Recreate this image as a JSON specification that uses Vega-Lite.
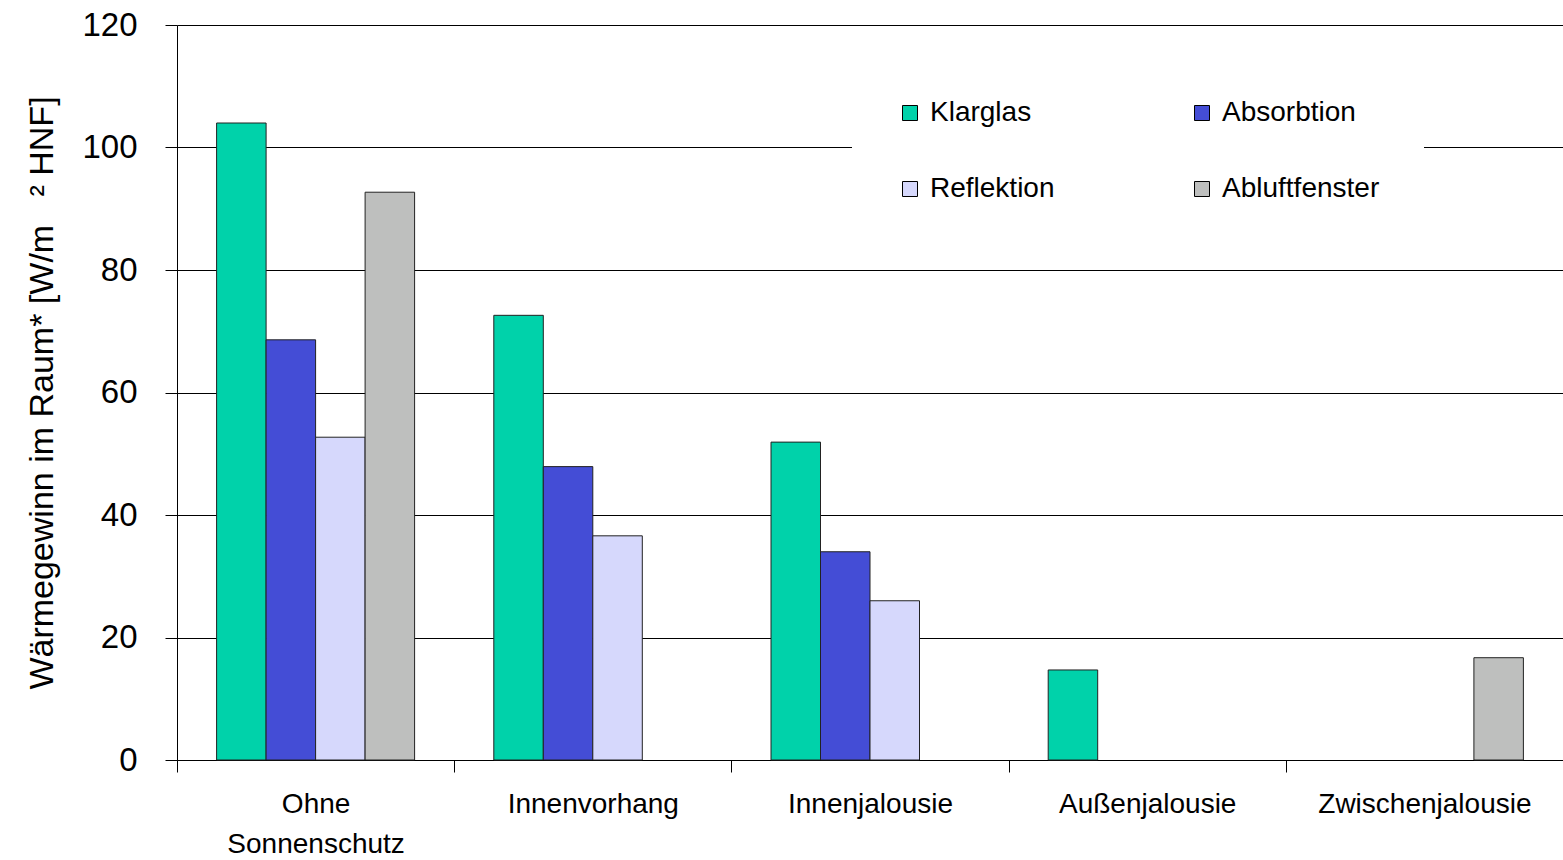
{
  "$schema": "https://vega.github.io/schema/vega-lite/v6.json",
  "autosize": "none",
  "width": 1386,
  "height": 735,
  "padding": {"left": 177, "top": 25, "right": 0, "bottom": 100},
  "background": "white",
  "config": {
    "view": {"stroke": null},
    "font": "Liberation Sans"
  },
  "data": {
    "values": [
      {"cat": "Ohne Sonnenschutz", "serie": "Klarglas", "wert": 104.0},
      {"cat": "Ohne Sonnenschutz", "serie": "Absorbtion", "wert": 68.6},
      {"cat": "Ohne Sonnenschutz", "serie": "Reflektion", "wert": 52.7},
      {"cat": "Ohne Sonnenschutz", "serie": "Abluftfenster", "wert": 92.7},
      {"cat": "Innenvorhang", "serie": "Klarglas", "wert": 72.6},
      {"cat": "Innenvorhang", "serie": "Absorbtion", "wert": 47.9},
      {"cat": "Innenvorhang", "serie": "Reflektion", "wert": 36.6},
      {"cat": "Innenjalousie", "serie": "Klarglas", "wert": 51.9},
      {"cat": "Innenjalousie", "serie": "Absorbtion", "wert": 34.0},
      {"cat": "Innenjalousie", "serie": "Reflektion", "wert": 26.0},
      {"cat": "Außenjalousie", "serie": "Klarglas", "wert": 14.7},
      {"cat": "Zwischenjalousie", "serie": "Abluftfenster", "wert": 16.7}
    ]
  },
  "mark": {"type": "bar", "stroke": "#222222", "strokeWidth": 1},
  "encoding": {
    "x": {
      "field": "cat",
      "type": "nominal",
      "sort": ["Ohne Sonnenschutz", "Innenvorhang", "Innenjalousie", "Außenjalousie", "Zwischenjalousie"],
      "scale": {"paddingInner": 0, "paddingOuter": 0},
      "axis": {
        "title": null,
        "labelAngle": 0,
        "labelExpr": "datum.value == 'Ohne Sonnenschutz' ? ['Ohne', 'Sonnenschutz'] : datum.value",
        "labelFont": "Liberation Sans",
        "labelFontSize": 28,
        "labelColor": "black",
        "labelLineHeight": 40,
        "labelPadding": 18,
        "labelLimit": 400,
        "tickBand": "extent",
        "tickSize": 12,
        "tickColor": "black",
        "domainColor": "black",
        "grid": false
      }
    },
    "xOffset": {
      "field": "serie",
      "type": "nominal",
      "sort": ["Klarglas", "Absorbtion", "Reflektion", "Abluftfenster"],
      "scale": {"domain": ["Klarglas", "Absorbtion", "Reflektion", "Abluftfenster"], "paddingInner": 0, "paddingOuter": 0.8}
    },
    "y": {
      "field": "wert",
      "type": "quantitative",
      "scale": {"domain": [0, 120], "nice": false},
      "axis": {
        "title": "Wärmegewinn im Raum* [W/m\u00a0\u00a0\u00a0² HNF]",
        "titleFont": "Liberation Sans",
        "titleFontSize": 34,
        "titleFontWeight": "normal",
        "titleColor": "black",
        "titlePadding": 22,
        "values": [0, 20, 40, 60, 80, 100, 120],
        "labelFont": "Liberation Sans",
        "labelFontSize": 33,
        "labelColor": "black",
        "labelPadding": 28,
        "tickSize": 12,
        "tickColor": "black",
        "domainColor": "black",
        "grid": true,
        "gridColor": "black",
        "gridWidth": 1
      }
    },
    "color": {
      "field": "serie",
      "type": "nominal",
      "scale": {
        "domain": ["Klarglas", "Absorbtion", "Reflektion", "Abluftfenster"],
        "range": ["#00D2AA", "#444DD6", "#D6D8FC", "#BEBFBE"]
      },
      "legend": {
        "title": null,
        "orient": "none",
        "legendX": 675,
        "legendY": 30,
        "columns": 2,
        "direction": "horizontal",
        "columnPadding": 133,
        "rowPadding": 48,
        "padding": 44,
        "fillColor": "white",
        "symbolType": "square",
        "symbolSize": 225,
        "symbolStrokeColor": "black",
        "symbolStrokeWidth": 1,
        "symbolOpacity": 1,
        "labelFont": "Liberation Sans",
        "labelFontSize": 28,
        "labelColor": "black",
        "labelOffset": 6,
        "labelLimit": 400
      }
    }
  }
}
